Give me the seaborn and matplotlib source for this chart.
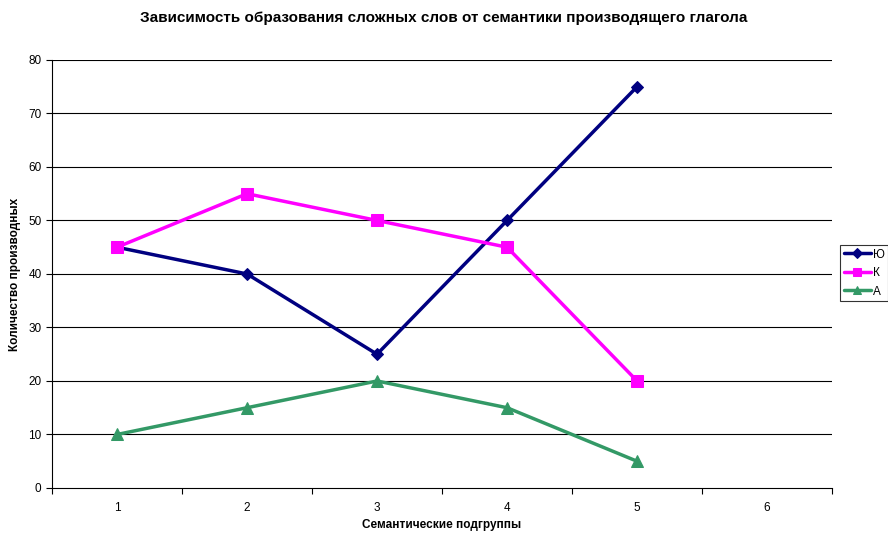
import pandas as pd
import matplotlib.pyplot as plt
import seaborn as sns
from matplotlib.ticker import FixedLocator

# ── данные ────────────────────────────────────────────────────────────
groups = [1, 2, 3, 4, 5]
series_yu = [45, 40, 25, 50, 75]
series_k = [45, 55, 50, 45, 20]
series_a = [10, 15, 20, 15, 5]
x_ticks = [1, 2, 3, 4, 5, 6]

names = ['Ю', 'К', 'А']
colors = {'Ю': '#000080', 'К': '#FF00FF', 'А': '#339966'}
markers = {'Ю': 'D', 'К': 's', 'А': '^'}
msizes = {'Ю': 6, 'К': 8, 'А': 8}

df = pd.DataFrame({
    'group': groups * 3,
    'value': series_yu + series_k + series_a,
    'series': ['Ю'] * 5 + ['К'] * 5 + ['А'] * 5,
})

sns.set_style('white')
plt.rcParams['font.family'] = ['Liberation Sans', 'DejaVu Sans']
plt.rcParams['text.color'] = 'black'
plt.rcParams['axes.labelcolor'] = 'black'
plt.rcParams['xtick.color'] = 'black'
plt.rcParams['ytick.color'] = 'black'

fig = plt.figure(figsize=(8.88, 5.35), dpi=100)
ax = fig.add_axes([0.0586, 0.0879, 0.8784, 0.8000])

for y in range(10, 81, 10):
    ax.axhline(y, color='black', lw=0.8, zorder=0)

for name in names:
    sub = df[df['series'] == name]
    sns.lineplot(data=sub, x='group', y='value', ax=ax, color=colors[name],
                 marker=markers[name], markersize=msizes[name],
                 markeredgecolor=colors[name], lw=2.5, label=name, legend=False)

ax.set_xlim(0.5, 6.5)
ax.set_ylim(0, 80)
ax.set_yticks(range(0, 81, 10))
ax.set_xticks(x_ticks)
ax.xaxis.set_minor_locator(FixedLocator([0.5 + i for i in range(7)]))
ax.tick_params(axis='x', which='major', length=0, labelsize=8.5, pad=10)
ax.tick_params(axis='x', which='minor', length=4, direction='out', color='black', width=0.8)
ax.tick_params(axis='y', length=4, direction='out', color='black', width=0.8, labelsize=8.5)
ax.tick_params(bottom=True, left=True, which='both')

for s in ['top', 'right']:
    ax.spines[s].set_visible(False)
for s in ['left', 'bottom']:
    ax.spines[s].set_color('black')
    ax.spines[s].set_linewidth(0.8)

ax.set_xlabel('Семантические подгруппы', fontsize=8.5, fontweight='bold', labelpad=4)
ax.set_ylabel('Количество производных', fontsize=8.5, fontweight='bold', labelpad=5)
fig.suptitle('Зависимость образования сложных слов от семантики производящего глагола',
             fontsize=11, fontweight='bold', y=0.98)

handles, labels = ax.get_legend_handles_labels()
leg = fig.legend(handles, labels, loc='upper left', bbox_to_anchor=(0.946, 0.542),
                 frameon=True, fancybox=False, edgecolor='black', fontsize=8.5,
                 handlelength=2.3, handletextpad=0.15, borderpad=0.3,
                 labelspacing=0.55, borderaxespad=0, markerscale=0.8)
leg.get_frame().set_linewidth(0.8)

fig.savefig('out.png', dpi=100)
